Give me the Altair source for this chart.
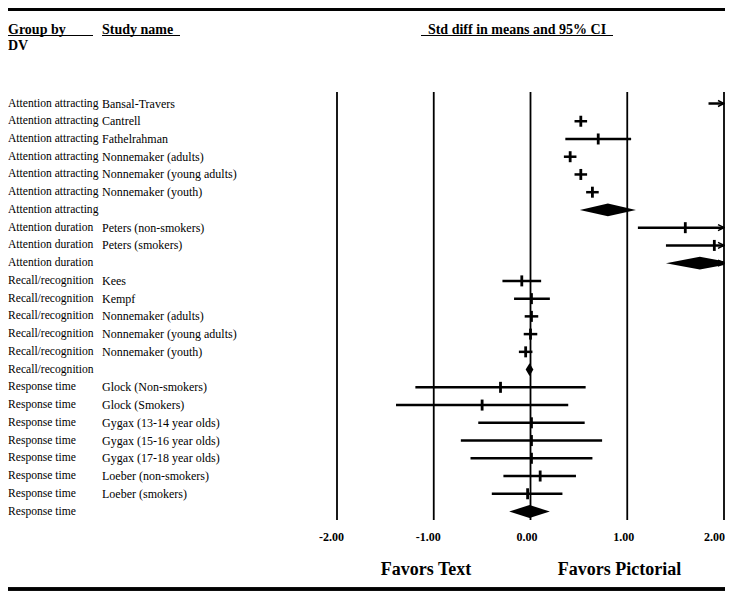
import altair as alt
import pandas as pd

# ---------------- data ----------------
groups = (["Attention attracting"] * 7 + ["Attention duration"] * 3 +
          ["Recall/recognition"] * 6 + ["Response time"] * 8)
studies = ["Bansal-Travers", "Cantrell", "Fathelrahman", "Nonnemaker (adults)",
           "Nonnemaker (young adults)", "Nonnemaker (youth)", "",
           "Peters (non-smokers)", "Peters (smokers)", "",
           "Kees", "Kempf", "Nonnemaker (adults)", "Nonnemaker (young adults)",
           "Nonnemaker (youth)", "",
           "Glock (Non-smokers)", "Glock (Smokers)", "Gygax (13-14 year olds)",
           "Gygax (15-16 year olds)", "Gygax (17-18 year olds)",
           "Loeber (non-smokers)", "Loeber (smokers)", ""]
is_summary = [s == "" for s in studies]
est = [2.30, 0.52, 0.70, 0.41, 0.52, 0.64, 0.80,
       1.60, 1.90, 1.75,
       -0.09, 0.01, 0.01, 0.00, -0.05, -0.01,
       -0.31, -0.50, 0.01, 0.01, 0.01, 0.10, -0.03, -0.01]
lo = [1.84, 0.455, 0.36, 0.345, 0.455, 0.575, 0.51,
      1.11, 1.40, 1.40,
      -0.29, -0.17, -0.06, -0.07, -0.12, -0.05,
      -1.19, -1.39, -0.54, -0.72, -0.62, -0.28, -0.40, -0.22]
hi = [2.76, 0.585, 1.04, 0.475, 0.585, 0.705, 1.09,
      2.09, 2.40, 2.10,
      0.11, 0.20, 0.08, 0.07, 0.02, 0.03,
      0.57, 0.39, 0.56, 0.74, 0.64, 0.47, 0.33, 0.20]
tick_values = [-2, -1, 0, 1, 2]
tick_labels = ["-2.00", "-1.00", "0.00", "1.00", "2.00"]

FONT = "Liberation Serif"
rows = list(range(len(groups)))
df = pd.DataFrame({"row": rows, "group": groups, "study": studies,
                   "est": est, "lo": lo, "hi": hi, "summary": is_summary})
studies_df = df[~df["summary"]]
summ_df = df[df["summary"]]

HALF = 0.36  # diamond half-height in row units
dia = []
for _, r in summ_df.iterrows():
    for xv, h in [(r["lo"], 0.0), (r["est"], HALF), (r["hi"], 0.0)]:
        dia.append({"row": r["row"], "x": xv, "ylo": r["row"] - h, "yhi": r["row"] + h})
dia_df = pd.DataFrame(dia)
arrow_df = df[df["hi"] > 2]
ticks_df = pd.DataFrame({"v": tick_values, "label": tick_labels})

W = 387
xs = alt.Scale(domain=[-2, 2], range=[0, W])
ys = alt.Scale(domain=[0, 23], range=[95.5, 503.5])
X = lambda f: alt.X(f, type="quantitative", scale=xs, axis=None)
Y = lambda f: alt.Y(f, type="quantitative", scale=ys, axis=None)

grid = alt.Chart(ticks_df).mark_rule(color="black", strokeWidth=1.8).encode(
    x=X("v"), y=alt.value(84), y2=alt.value(512))
tick_text = alt.Chart(ticks_df).transform_filter("datum.v < 2").mark_text(
    font=FONT, fontSize=12, fontWeight="bold", align="right", baseline="middle",
    dx=7, color="black").encode(x=X("v"), y=alt.value(529), text="label:N")
tick_text_last = alt.Chart(ticks_df).transform_filter("datum.v >= 2").mark_text(
    font=FONT, fontSize=12, fontWeight="bold", align="right", baseline="middle",
    dx=1, color="black").encode(x=X("v"), y=alt.value(529), text="label:N")

ci = alt.Chart(studies_df).mark_rule(color="black", strokeWidth=2.5, clip=True).encode(
    x=X("lo"), x2="hi", y=Y("row"))
pts = alt.Chart(studies_df).mark_tick(
    orient="vertical", size=11, thickness=2.8, color="black", clip=True, opacity=1).encode(
    x=X("est"), y=Y("row"))
diamonds = alt.Chart(dia_df).mark_area(
    orient="vertical", color="black", clip=True, opacity=1).encode(
    x=X("x"), y=Y("ylo"), y2="yhi", detail="row:N")
arrows = alt.Chart(arrow_df).mark_point(
    shape="M -1 -0.5 L 0 0 L -1 0.5", filled=False, stroke="black",
    strokeWidth=1.5, size=144, opacity=1).encode(x=alt.datum(2), y=Y("row"))

LEFT1 = -329
LEFT2 = -235
grp_text = alt.Chart(df).mark_text(
    font=FONT, fontSize=11.6, align="left", baseline="middle", color="black").encode(
    x=alt.value(LEFT1), y=Y("row"), text="group:N")
std_text = alt.Chart(studies_df).mark_text(
    font=FONT, fontSize=12, align="left", baseline="middle", color="black").encode(
    x=alt.value(LEFT2), y=Y("row"), text="study:N")

hdr = pd.DataFrame({"t": ["Group by", "DV", "Study name", "Std diff in means and 95% CI"]})
def header(label, x, y, align="left"):
    return alt.Chart(hdr).transform_filter(f"datum.t == '{label}'").mark_text(
        font=FONT, fontSize=14, fontWeight="bold", align=align, baseline="alphabetic",
        color="black").encode(x=alt.value(x), y=alt.value(y), text="t:N")

h1 = header("Group by", LEFT1, 26)
h2 = header("DV", LEFT1, 42)
h3 = header("Study name", LEFT2, 26)
h4 = header("Std diff in means and 95% CI", 180, 26, "center")

u1 = alt.Chart(hdr).mark_rule(color="black", strokeWidth=1).encode(
    x=alt.value(LEFT1), x2=alt.value(-244), y=alt.value(27.5))
u2 = alt.Chart(hdr).mark_rule(color="black", strokeWidth=1).encode(
    x=alt.value(LEFT2), x2=alt.value(-157), y=alt.value(27.5))
u3 = alt.Chart(hdr).mark_rule(color="black", strokeWidth=1).encode(
    x=alt.value(84), x2=alt.value(276), y=alt.value(27.5))

top_rule = alt.Chart(hdr).mark_rule(color="black", strokeWidth=2.5).encode(
    x=alt.value(-329), x2=alt.value(W + 1), y=alt.value(1.5))
bot_rule = alt.Chart(hdr).mark_rule(color="black", strokeWidth=3).encode(
    x=alt.value(-329), x2=alt.value(W + 1), y=alt.value(581))

fav = pd.DataFrame({"t": ["Favors Text", "Favors Pictorial"], "cx": [89, 282.5]})
fav_text = alt.Chart(fav).mark_text(
    font=FONT, fontSize=18, fontWeight="bold", align="center", baseline="middle",
    color="black").encode(x=alt.X("cx:Q", scale=None, axis=None), y=alt.value(562), text="t:N")

chart = alt.layer(
    grid, tick_text, tick_text_last, ci, pts, diamonds, arrows, grp_text, std_text,
    h1, h2, h3, h4, u1, u2, u3, top_rule, bot_rule, fav_text
).properties(
    width=W, height=583,
    padding={"left": 329, "top": 0, "right": 1, "bottom": 0},
    autosize=alt.AutoSizeParams(type="none"),
    background="white",
).configure_view(stroke=None)

chart.save("out.html", embed_options={"renderer": "svg", "actions": False})
